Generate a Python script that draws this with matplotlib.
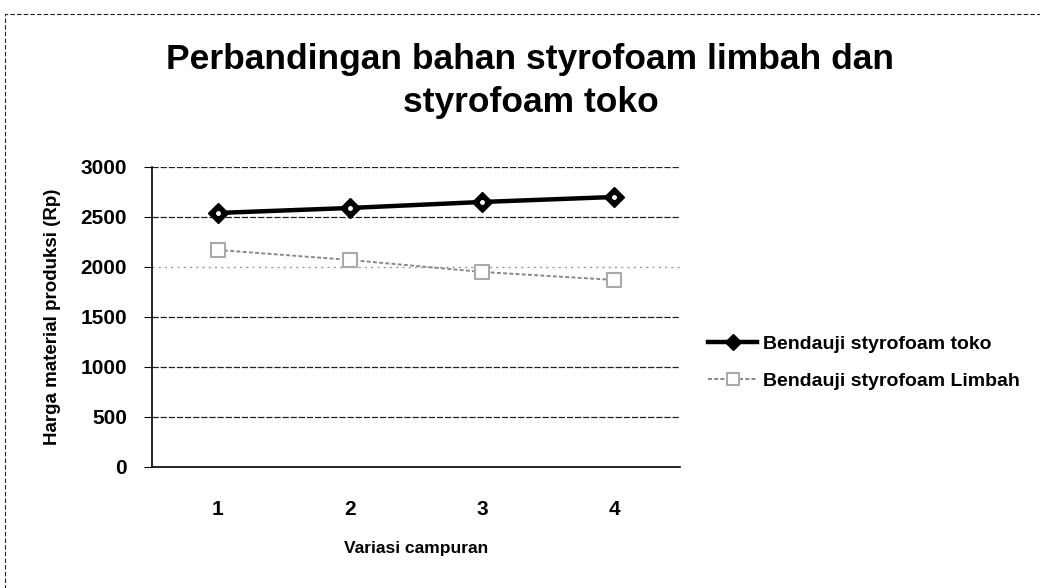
import matplotlib.pyplot as plt
from matplotlib.patches import Rectangle

# harga material produksi per variasi campuran (Rp)
variasi = [1, 2, 3, 4]
harga_toko = [2540, 2590, 2650, 2700]
harga_limbah = [2170, 2070, 1950, 1870]
yticks = [0, 500, 1000, 1500, 2000, 2500, 3000]

plt.rcParams['font.family'] = ['Liberation Sans', 'DejaVu Sans']
plt.rcParams['font.weight'] = 'bold'
plt.rcParams['axes.labelweight'] = 'bold'

fig = plt.figure(figsize=(10.4, 5.88), dpi=100)
ax = fig.add_axes([0.146, 0.206, 0.508, 0.51])

# dashed border round the chart
fig.patches.append(Rectangle((0.005, -0.05), 1.2, 1.026, transform=fig.transFigure,
                             fill=False, edgecolor='#222222', linestyle=(0, (4, 2)),
                             linewidth=0.8))

for y in yticks[1:]:
    if y == 2000:
        ax.axhline(y, color='#999999', linestyle=(0, (1.5, 3)), linewidth=1.0, zorder=1)
    else:
        ax.axhline(y, color='#222222', linestyle=(0, (5, 1.5)), linewidth=0.9, zorder=1)

ax.plot(variasi, harga_toko, color='black', linewidth=3.2, marker='D', markersize=10,
        markerfacecolor='black', markeredgecolor='black',
        label='Bendauji styrofoam toko', zorder=3)
ax.plot(variasi, harga_toko, linestyle='none', marker='o', markersize=2.5,
        color='white', zorder=4)
ax.plot(variasi, harga_limbah, color='#888888', linewidth=1.4, linestyle=(0, (2, 1.2)),
        marker='s', markersize=10, markerfacecolor='white', markeredgecolor='#aaaaaa',
        markeredgewidth=1.5, label='Bendauji styrofoam Limbah', zorder=3)

ax.set_xlim(0.5, 4.5)
ax.set_ylim(0, 3000)
ax.set_xticks(variasi)
ax.set_yticks(yticks)
ax.tick_params(axis='x', length=0, pad=24, labelsize=15)
ax.tick_params(axis='y', length=6, direction='out', pad=12, labelsize=15)
for s in ['top', 'right']:
    ax.spines[s].set_visible(False)
ax.spines['left'].set_linewidth(1.2)
ax.spines['bottom'].set_linewidth(1.2)

ax.set_xlabel('Variasi campuran', fontsize=12.5, labelpad=16)
ax.set_ylabel('Harga material produksi (Rp)', fontsize=13.5, labelpad=14)

fig.text(0.51, 0.862, 'Perbandingan bahan styrofoam limbah dan\nstyrofoam toko',
         ha='center', va='center', fontsize=25.5, fontweight='bold', linespacing=1.4)

leg = ax.legend(loc='center left', bbox_to_anchor=(0.681, 0.3835),
                bbox_transform=fig.transFigure, frameon=False, borderaxespad=0,
                borderpad=0, fontsize=14, handlelength=2.5, handletextpad=0.3,
                labelspacing=1.0, markerscale=0.8)

fig.savefig('out.png', dpi=100)
